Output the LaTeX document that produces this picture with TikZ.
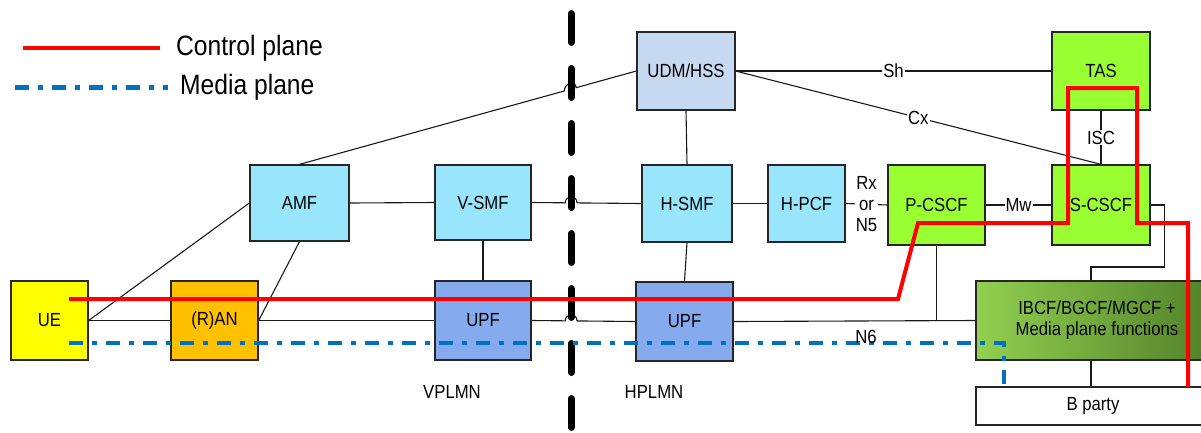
\documentclass[tikz,border=0pt]{standalone}
\usepackage{fontspec}
\setmainfont{Liberation Sans}[FakeStretch=0.88]
\usetikzlibrary{calc}
\definecolor{udmC}{HTML}{C6D9F1}
\definecolor{nfC}{HTML}{99E6FC}
\definecolor{upfC}{HTML}{86AAEE}
\definecolor{ueC}{HTML}{FFFF00}
\definecolor{ranC}{HTML}{FFC000}
\definecolor{imsC}{HTML}{99FF33}
\definecolor{ibL}{HTML}{92D050}
\definecolor{ibR}{HTML}{4F7F28}
\definecolor{cpC}{HTML}{FF0000}
\definecolor{mpC}{HTML}{0070C0}
\begin{document}
\begin{tikzpicture}[x=1pt,y=-1pt,
  fnbox/.style={draw=black!85,line width=1.3pt,inner sep=0pt,align=center,
    font=\fontsize{19}{21}\selectfont},
  conn/.style={draw=black!90,line width=1.1pt},
  lbl/.style={fill=white,inner sep=1pt,align=center,font=\fontsize{19}{21}\selectfont},
  plain/.style={inner sep=0pt,font=\fontsize{19}{21}\selectfont},
  legtext/.style={inner sep=0pt,anchor=west,font=\fontsize{28}{30}\selectfont},
  cplane/.style={draw=cpC,line width=4pt,line join=miter},
  mplane/.style={draw=mpC,line width=4pt,dash pattern=on 14pt off 9pt on 5pt off 9pt},
  border/.style={draw=black,line width=7pt,line cap=round,dash pattern=on 29pt off 26pt}
]
\useasboundingbox (0,0) rectangle (1201,432);

% legend
\coordinate (lc1) at (23,48); \coordinate (lc2) at (160,48);
\coordinate (lm1) at (15,87); \coordinate (lm2) at (168,87);
\draw[cplane] (lc1) -- (lc2);
\draw[mplane,line width=5pt] (lm1) -- (lm2);
\node[legtext] (legC) at (176,48) {Control plane};
\node[legtext] (legM) at (180,87) {Media plane};

% nodes
\node[fnbox,fill=udmC,minimum width=98pt,minimum height=78pt] (udm) at (686,71) {UDM/HSS};
\node[fnbox,fill=imsC,minimum width=98pt,minimum height=78pt] (tas) at (1101,71) {TAS};
\node[fnbox,fill=nfC,minimum width=99pt,minimum height=76pt] (amf) at (299.5,203) {AMF};
\node[fnbox,fill=nfC,minimum width=96pt,minimum height=75pt] (vsmf) at (483,202.5) {V-SMF};
\node[fnbox,fill=nfC,minimum width=90pt,minimum height=77pt] (hsmf) at (687,203.5) {H-SMF};
\node[fnbox,fill=nfC,minimum width=77pt,minimum height=77pt] (hpcf) at (806.5,203.5) {H-PCF};
\node[fnbox,fill=imsC,minimum width=97pt,minimum height=80pt] (pcscf) at (936.5,205) {P-CSCF};
\node[fnbox,fill=imsC,minimum width=98pt,minimum height=80pt] (scscf) at (1101,205) {S-CSCF};
\node[fnbox,fill=ueC,minimum width=77pt,minimum height=79pt] (ue) at (49.5,320.5) {UE};
\node[fnbox,fill=ranC,minimum width=87pt,minimum height=79pt] (ran) at (214.5,320.5) {(R)AN};
\node[fnbox,fill=upfC,minimum width=96pt,minimum height=79pt] (upfv) at (483,320.5) {UPF};
\node[fnbox,fill=upfC,minimum width=97pt,minimum height=79pt] (upfh) at (684.5,321.5) {UPF};
\node[fnbox,left color=ibL,right color=ibR,minimum width=242pt,minimum height=79pt] (ibcf) at (1097,320.5) {IBCF/BGCF/MGCF +\\Media plane functions};
\node[fnbox,fill=white,line width=1.1pt,minimum width=234pt,minimum height=38pt] (bparty) at (1093,406) {B party};

\node[plain] (vplmn) at (452,392) {VPLMN};
\node[plain] (hplmn) at (654,392) {HPLMN};

% connectors
\path (amf.north) -- (udm.west) coordinate[pos=0.786] (hA1) coordinate[pos=0.821] (hA2);
\draw[conn] (amf.north) -- (hA1) .. controls +(0,-8) and +(0,-8) .. (hA2) -- (udm.west);
\draw[conn] (udm.east) -- node[lbl]{Sh} (tas.west);
\draw[conn] (udm.east) -- node[lbl]{Cx} (scscf.north);
\draw[conn] (udm.south) -- (hsmf.north);
\draw[conn] (tas.south) -- node[lbl]{ISC} (scscf.north);
\draw[conn] (amf.east) -- (vsmf.west);
\path (vsmf.east) -- (hsmf.west) coordinate[pos=0.306] (hB1) coordinate[pos=0.414] (hB2);
\draw[conn] (vsmf.east) -- (hB1) .. controls +(0,-8) and +(0,-8) .. (hB2) -- (hsmf.west);
\draw[conn] (hsmf.east) -- (hpcf.west);
\draw[conn] (hpcf.east) -- node[lbl,inner sep=0.5pt]{Rx\\or\\N5} (pcscf.west);
\draw[conn] (pcscf.east) -- node[lbl]{Mw} (scscf.west);
\coordinate (jx) at (1091,0);
\draw[conn] (scscf.east) -- ++(14,0) -- ++(0,62) -| (ibcf.north -| jx);
\draw[conn] (ibcf.south -| jx) -- (bparty.north -| jx);
\draw[conn] (ue.east) -- (ran.west);
\draw[conn] (ue.east) -- (amf.west);
\draw[conn] (ran.east) -- (amf.south);
\draw[conn] (ran.east) -- (upfv.west);
\draw[conn] (vsmf.south) -- (upfv.north);
\path (upfv.east) -- (upfh.west) coordinate[pos=0.324] (hC1) coordinate[pos=0.438] (hC2);
\draw[conn] (upfv.east) -- (hC1) .. controls +(0,-8) and +(0,-8) .. (hC2) -- (upfh.west);
\draw[conn] (hsmf.south) -- (upfh.north);
\draw[conn] (upfh.east) -- (ibcf.west);
\draw[conn] (pcscf.south) -- (pcscf.south |- ibcf.west);

% border line between VPLMN and HPLMN
\coordinate (b1) at (571,13.5); \coordinate (b2) at (571,440);
\draw[border] (b1) -- (b2);

% control plane
\coordinate (c0) at (69,299);
\draw[cplane] (c0) -- (898,299) -- (918,223) -- (1068,223) -- (1068,88) -- (1137,88)
  -- (1137,223) -- (1188,223) -- (1188,387);

% media plane
\coordinate (m0) at (69,343);
\draw[mplane] (m0) -- (1004,343) -- (1004,386);

\node[plain] (n6) at (866,337) {N6};
\end{tikzpicture}
\end{document}
